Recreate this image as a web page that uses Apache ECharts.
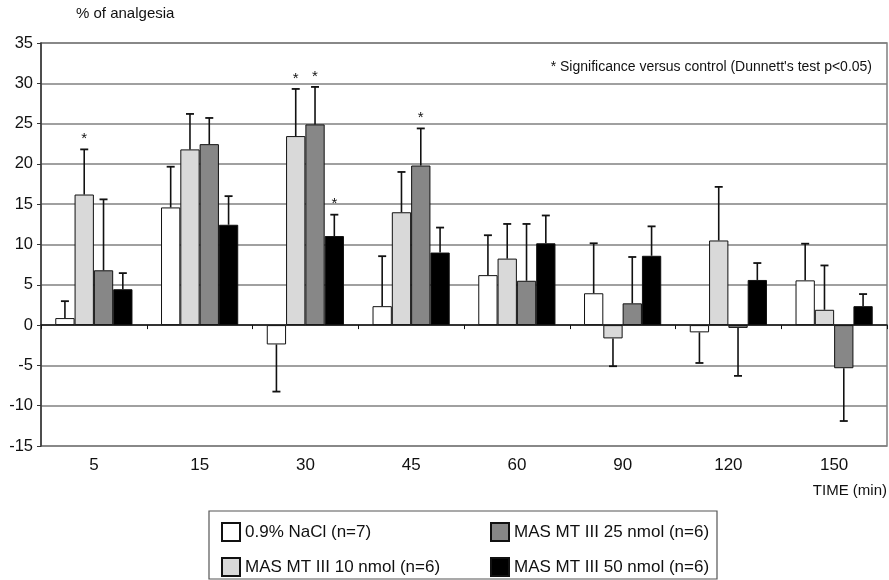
<!DOCTYPE html>
<html>
<head>
<meta charset="utf-8">
<script src="https://cdn.jsdelivr.net/npm/echarts@6/dist/echarts.min.js"></script>
<style>
  html, body { margin: 0; padding: 0; background: #fff; }
  #chart { width: 889px; height: 580px; }
</style>
</head>
<body>
<div id="chart"></div>
<script>
// time points (min)
const categories = ['5', '15', '30', '45', '60', '90', '120', '150'];
const yTicks = [-15, 35, 5];

const seriesNames = [
  '0.9% NaCl (n=7)',
  'MAS MT III 10 nmol (n=6)',
  'MAS MT III 25 nmol (n=6)',
  'MAS MT III 50 nmol (n=6)'
];

// mean % of analgesia
const nacl = [0.87, 14.6, -2.4, 2.35, 6.2, 3.95, -0.9, 5.55];
const mas10 = [16.2, 21.8, 23.45, 14.0, 8.25, -1.65, 10.5, 1.9];
const mas25 = [6.8, 22.45, 24.9, 19.8, 5.5, 2.7, -0.35, -5.35];
const mas50 = [4.45, 12.45, 11.05, 9.0, 10.15, 8.6, 5.6, 2.35];

// error bar length (SEM), drawn away from zero
const naclErr = [2.1, 5.05, 5.85, 6.2, 4.95, 6.2, 3.8, 4.55];
const mas10Err = [5.6, 4.4, 5.85, 5.0, 4.3, 3.45, 6.65, 5.5];
const mas25Err = [8.8, 3.25, 4.65, 4.6, 7.05, 5.75, 5.95, 6.55];
const mas50Err = [2.0, 3.55, 2.65, 3.1, 3.45, 3.65, 2.1, 1.5];

// significance stars (1 = *)
const naclSig = [0, 0, 0, 0, 0, 0, 0, 0];
const mas10Sig = [1, 0, 1, 0, 0, 0, 0, 0];
const mas25Sig = [0, 0, 1, 1, 0, 0, 0, 0];
const mas50Sig = [0, 0, 1, 0, 0, 0, 0, 0];

const colors = ['#ffffff', '#d9d9d9', '#878787', '#000000'];
const FONT = '"Liberation Sans", Arial, sans-serif';
const catGap = 0.27;

const means = [nacl, mas10, mas25, mas50];
const errs = [naclErr, mas10Err, mas25Err, mas50Err];
const sigs = [naclSig, mas10Sig, mas25Sig, mas50Sig];

function errorRenderer(idx) {
  return function (params, api) {
    const ci = api.value(0);
    const m = api.value(1);
    const s = api.value(2);
    const star = api.value(3);
    const end = m >= 0 ? m + s : m - s;
    const band = api.size([1, 0])[0];
    const bw = band * (1 - catGap) / 4;
    const base = api.coord([ci, m]);
    const tip = api.coord([ci, end]);
    const x = base[0] + (idx - 1.5) * bw;
    const children = [
      { type: 'line', shape: { x1: x, y1: base[1], x2: x, y2: tip[1] },
        style: { stroke: '#111', lineWidth: 1.6 } },
      { type: 'line', shape: { x1: x - 4, y1: tip[1], x2: x + 4, y2: tip[1] },
        style: { stroke: '#111', lineWidth: 1.8 } }
    ];
    if (star) {
      children.push({ type: 'text', x: x, y: tip[1] - 3,
        style: { text: '*', fill: '#111', font: '15px ' + FONT, align: 'center', verticalAlign: 'bottom' } });
    }
    return { type: 'group', children: children };
  };
}

const series = [];
means.forEach((vals, i) => {
  series.push({
    name: seriesNames[i],
    type: 'bar',
    data: vals,
    barGap: '0%',
    barCategoryGap: (catGap * 100) + '%',
    itemStyle: { color: colors[i], borderColor: '#111', borderWidth: 1 },
    z: 2
  });
});
means.forEach((vals, i) => {
  series.push({
    name: seriesNames[i] + ' err',
    type: 'custom',
    renderItem: errorRenderer(i),
    data: vals.map((v, k) => [k, v, errs[i][k], sigs[i][k]]),
    encode: { x: 0, y: 1 },
    z: 3,
    silent: true
  });
});

// one legend per entry, 2 x 2 inside the box
const legendPos = [[216, 517], [216, 552], [485, 517], [485, 552]];
const legends = seriesNames.map((name, i) => ({
  left: legendPos[i][0], top: legendPos[i][1],
  itemWidth: 18, itemHeight: 18, icon: 'rect',
  data: [name],
  textStyle: { fontSize: 17, color: '#111', fontFamily: FONT },
  selectedMode: false
}));

const chart = echarts.init(document.getElementById('chart'));
chart.setOption({
  animation: false,
  backgroundColor: '#fff',
  textStyle: { fontFamily: FONT },
  grid: {
    left: 41, right: 2, top: 43, bottom: 134,
    show: true, borderColor: '#808080', borderWidth: 1.5
  },
  xAxis: [
    {
      type: 'category',
      data: categories,
      position: 'bottom',
      axisLine: { show: false, onZero: false },
      axisTick: { show: false },
      axisLabel: { color: '#111', fontSize: 17, fontFamily: FONT, margin: 11 }
    },
    {
      type: 'category',
      data: categories,
      position: 'bottom',
      axisLine: { show: true, onZero: true, lineStyle: { color: '#111', width: 1.5 } },
      axisTick: { show: true, length: 4, lineStyle: { color: '#111' } },
      axisLabel: { show: false }
    }
  ],
  yAxis: {
    type: 'value',
    min: yTicks[0],
    max: yTicks[1],
    interval: yTicks[2],
    axisLine: { show: true, lineStyle: { color: '#333', width: 1.5 } },
    axisTick: { show: true, length: 4, lineStyle: { color: '#333' } },
    axisLabel: { color: '#111', fontSize: 16.5, fontFamily: FONT, margin: 8 },
    splitLine: { lineStyle: { color: '#808080', width: 1.5 } }
  },
  legend: legends,
  graphic: [
    { type: 'rect', shape: { x: 209, y: 511, width: 508, height: 68 },
      style: { fill: 'none', stroke: '#555', lineWidth: 1.2 }, silent: true },
    { type: 'text', left: 76, top: 6,
      style: { text: '% of analgesia', font: '15px ' + FONT, fill: '#111' } },
    { type: 'text', right: 17, top: 60,
      style: { text: "* Significance versus control (Dunnett's test p<0.05)", font: '14px ' + FONT, fill: '#111' } },
    { type: 'text', right: 2, top: 483,
      style: { text: 'TIME (min)', font: '15px ' + FONT, fill: '#111' } }
  ],
  series: series
});
</script>
</body>
</html>
